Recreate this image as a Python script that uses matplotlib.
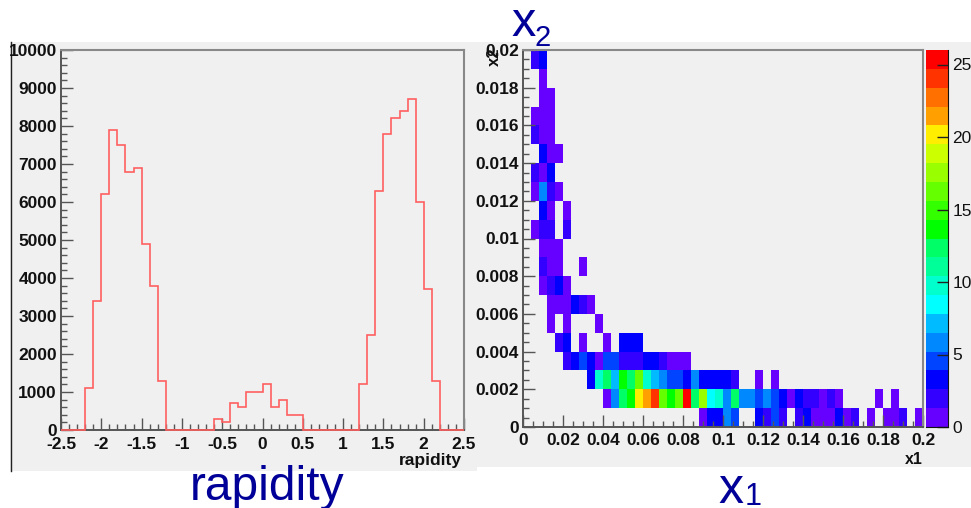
import numpy as np
import matplotlib
matplotlib.use("Agg")
import matplotlib.pyplot as plt
from matplotlib.colors import ListedColormap, BoundaryNorm
from matplotlib.patches import Rectangle
from matplotlib.ticker import MultipleLocator, FixedLocator, FuncFormatter

plt.rcParams['font.family'] = ['Liberation Sans', 'DejaVu Sans']

W, H = 971, 508

# rapidity histogram, 50 bins from -2.5 to 2.5
rapidity_edges = np.linspace(-2.5, 2.5, 51)
rapidity_counts = [0, 0, 0, 1100, 3400, 6200, 7900, 7500, 6800, 6900,
                   4900, 3800, 1300, 0, 0, 0, 0, 0, 0, 300,
                   200, 700, 600, 1000, 1000, 1200, 600, 800, 400, 400,
                   0, 0, 0, 0, 0, 0, 0, 1200, 2500, 6300,
                   7800, 8200, 8400, 8700, 6000, 3700, 1300, 0, 0, 0]

# x1 vs x2 bin contents, top row first, trailing empty bins left out
x1_edges = np.linspace(0, 0.2, 51)
x2_edges = np.linspace(0, 0.02, 21)
x1x2_rows = [
    [0, 2, 3],
    [0, 0, 1],
    [0, 0, 1, 1],
    [0, 1, 1, 1],
    [0, 2, 1, 1],
    [0, 0, 3, 1, 1],
    [0, 2, 1, 3],
    [0, 1, 6, 2, 1],
    [0, 0, 3, 1, 0, 1],
    [0, 1, 2, 2, 0, 2],
    [0, 0, 1, 1, 1],
    [0, 0, 2, 1, 1, 0, 0, 1],
    [0, 0, 1, 2, 3, 1],
    [0, 0, 0, 1, 1, 1, 3, 2, 1],
    [0, 0, 0, 1, 0, 1, 0, 0, 0, 1],
    [0, 0, 0, 0, 2, 3, 0, 1, 0, 0, 1, 0, 3, 3, 3],
    [0, 0, 0, 0, 0, 2, 3, 4, 3, 1, 4, 4, 2, 2, 2, 3, 3, 2, 1, 1, 1],
    [0, 0, 0, 0, 0, 0, 0, 0, 3, 10, 12, 7, 13, 12, 16, 10, 7, 6, 4, 4,
     3, 6, 3, 3, 3, 3, 2, 0, 0, 1, 0, 1],
    [0, 0, 0, 0, 0, 0, 0, 0, 0, 0, 1, 6, 12, 13, 20, 21, 24, 16, 13, 16,
     25, 12, 17, 8, 10, 6, 12, 6, 6, 4, 6, 4, 3, 1, 3, 2, 2, 1, 2, 1,
     0, 0, 0, 0, 1, 0, 1],
    [0, 0, 0, 0, 0, 0, 0, 0, 0, 0, 0, 0, 0, 0, 0, 0, 0, 0, 0, 0,
     0, 0, 1, 3, 3, 6, 4, 0, 0, 3, 2, 4, 2, 0, 2, 3, 1, 1, 1, 3,
     1, 2, 0, 1, 0, 1, 1, 2, 0, 1],
]

# colour bands of the palette, bottom to top, scale runs to 26
band_colors = ['#6600ff', '#3300ff', '#0000ff', '#0044ff', '#0088ff',
               '#00bbff', '#00ffff', '#00ffcc', '#00ff99', '#00ff66',
               '#00ff00', '#33ff00', '#66ff00', '#99ff00', '#ccff00',
               '#ffee00', '#ffa000', '#ff7000', '#ff3300', '#ff0000']
z_max = 26
colorbar_ticks = [0, 5, 10, 15, 20, 25]
x1_ticks = [0, 0.02, 0.04, 0.06, 0.08, 0.1, 0.12, 0.14, 0.16, 0.18, 0.2]
x2_ticks = [0, 0.002, 0.004, 0.006, 0.008, 0.01, 0.012, 0.014, 0.016, 0.018, 0.02]

PANEL = '#f0f0f0'
INK = '#111111'


def add_axes_px(fig, left, top, right, bottom):
    return fig.add_axes([left / W, 1 - bottom / H, (right - left) / W, (bottom - top) / H])


def style_axes(ax, xpad):
    ax.set_facecolor(PANEL)
    for side in ['top', 'right']:
        ax.spines[side].set_color('#888888')
        ax.spines[side].set_linewidth(1.5)
    for side in ['left', 'bottom']:
        ax.spines[side].set_color('#555555')
        ax.spines[side].set_linewidth(1.4)
    ax.tick_params(which='major', direction='in', length=8.5, width=1, color='#555555',
                   labelsize=12.5, labelcolor=INK, pad=3)
    ax.tick_params(which='minor', direction='in', length=4.5, width=1, color='#555555')
    ax.tick_params(axis='x', which='major', pad=xpad)
    for lab in ax.get_xticklabels() + ax.get_yticklabels():
        lab.set_fontweight('bold')


def short_num(v, pos=None):
    return '{:g}'.format(round(v, 4))


def px_text(fig, x, y, s, **kw):
    fig.text(x / W, 1 - y / H, s, **kw)


fig = plt.figure(figsize=(W / 100, H / 100), dpi=100, facecolor='white')

# grey panels behind the two plots
fig.add_artist(Rectangle((10 / W, 1 - 471 / H), 467 / W, 429 / H, transform=fig.transFigure,
                         facecolor=PANEL, edgecolor='none', zorder=-2))
fig.add_artist(Rectangle((475 / W, 1 - 467 / H), 496 / W, 425 / H, transform=fig.transFigure,
                         facecolor=PANEL, edgecolor='none', zorder=-2))
fig.add_artist(plt.Line2D([10.5 / W, 10.5 / W], [1 - 471 / H, 1 - 42 / H], transform=fig.transFigure,
                          color='#222222', lw=1, zorder=-1))

# left plot
ax = add_axes_px(fig, 61, 50, 464, 430)
ax.stairs(rapidity_counts, rapidity_edges, color='#ff5f5f', lw=1.2, zorder=3, clip_on=False)
ax.set_xlim(-2.5, 2.5)
ax.set_ylim(0, 10000)
ax.xaxis.set_major_locator(MultipleLocator(0.5))
ax.xaxis.set_minor_locator(MultipleLocator(0.1))
ax.yaxis.set_major_locator(MultipleLocator(1000))
ax.yaxis.set_minor_locator(MultipleLocator(200))
ax.xaxis.set_major_formatter(FuncFormatter(short_num))
ax.yaxis.set_major_formatter(FuncFormatter(short_num))
style_axes(ax, 5)

# right plot
ax2 = add_axes_px(fig, 523, 50, 923, 427)
z = np.zeros((20, 50))
for i, row in enumerate(x1x2_rows):
    z[19 - i, :len(row)] = row
cmap = ListedColormap(band_colors)
norm = BoundaryNorm(np.linspace(0, z_max, len(band_colors) + 1), cmap.N)
mesh = ax2.pcolormesh(x1_edges, x2_edges, np.ma.masked_equal(z, 0), cmap=cmap, norm=norm)
ax2.set_xlim(0, 0.2)
ax2.set_ylim(0, 0.02)
ax2.xaxis.set_major_locator(FixedLocator(x1_ticks))
ax2.xaxis.set_minor_locator(MultipleLocator(0.005))
ax2.yaxis.set_major_locator(FixedLocator(x2_ticks))
ax2.yaxis.set_minor_locator(MultipleLocator(0.0005))
ax2.xaxis.set_major_formatter(FuncFormatter(short_num))
ax2.yaxis.set_major_formatter(FuncFormatter(short_num))
style_axes(ax2, 4)

# colour scale
cax = add_axes_px(fig, 926, 50, 948, 427)
cb = fig.colorbar(mesh, cax=cax, spacing='proportional', drawedges=False)
cb.set_ticks(colorbar_ticks)
cb.ax.minorticks_off()
cb.outline.set_visible(False)
cax.tick_params(which='major', direction='in', length=8, width=1, color='#222222',
                labelsize=12.5, labelcolor=INK, pad=3)
cax.spines['right'].set_visible(True)
cax.spines['right'].set_color('#111111')
cax.spines['bottom'].set_visible(True)
cax.spines['bottom'].set_color('#111111')

# small axis titles
px_text(fig, 462, 460, 'rapidity', ha='right', va='center', fontsize=12.5, fontweight='bold', color=INK)
px_text(fig, 923, 459, 'x1', ha='right', va='center', fontsize=11.5, fontweight='bold', color=INK)
px_text(fig, 494, 47, 'x2', ha='center', va='top', rotation=90, fontsize=12, fontweight='bold', color=INK)

# big slide labels
BLUE = '#000099'
px_text(fig, 267, 488, 'rapidity', ha='center', va='center', fontsize=34.5, color=BLUE)
px_text(fig, 718, 490, 'x', ha='left', va='center', fontsize=36, color=BLUE)
px_text(fig, 745, 497, '1', ha='left', va='center', fontsize=22, color=BLUE)
px_text(fig, 511, 23, 'x', ha='left', va='center', fontsize=35, color=BLUE)
px_text(fig, 534, 38, '2', ha='left', va='center', fontsize=21, color=BLUE)

fig.savefig('out.png', dpi=100, facecolor='white')
